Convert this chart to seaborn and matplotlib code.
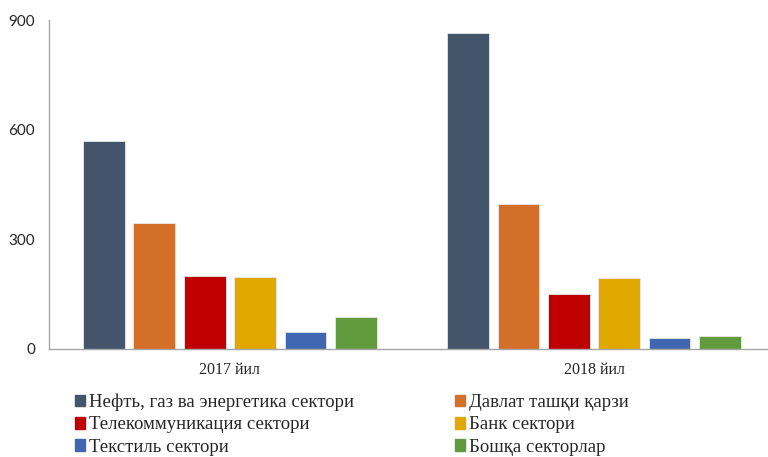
import pandas as pd
import matplotlib
matplotlib.use("Agg")
import matplotlib.pyplot as plt
import seaborn as sns

# data
years = ["2017 йил", "2018 йил"]
sectors = [
    "Нефть, газ ва энергетика сектори",
    "Давлат ташқи қарзи",
    "Телекоммуникация сектори",
    "Банк сектори",
    "Текстиль сектори",
    "Бошқа секторлар",
]
values_2017 = [570, 344, 200, 196, 46, 87]
values_2018 = [865, 398, 150, 193, 30, 35]
colors = ["#44546A", "#D46F2A", "#C00000", "#E1A900", "#3F66B0", "#629A3E"]

df = pd.DataFrame({
    "year": [years[0]] * 6 + [years[1]] * 6,
    "sector": sectors * 2,
    "value": values_2017 + values_2018,
})

sns.set_style("white")
fig = plt.figure(figsize=(7.68, 4.57), dpi=100)
ax = fig.add_axes([49 / 768, 1 - 349 / 457, 1 - 49 / 768, 329 / 457])

sns.barplot(data=df, x="year", y="value", hue="sector", hue_order=sectors,
            palette=colors, saturation=1, width=0.83, gap=0.17,
            edgecolor="#e8e8e8", linewidth=0.6, ax=ax, legend=False)

ax.set_ylim(0, 900)
ax.set_xlim(-0.497, 1.478)
ax.set_yticks([0, 300, 600, 900])
ax.set_xlabel("")
ax.set_ylabel("")
for side in ["top", "right"]:
    ax.spines[side].set_visible(False)
for side in ["left", "bottom"]:
    ax.spines[side].set_color("#a6a6a6")
    ax.spines[side].set_linewidth(1.0)
ax.tick_params(axis="both", length=0)
ax.tick_params(axis="y", pad=10, labelsize=11)
ax.tick_params(axis="x", pad=9, labelsize=11.5)
for lbl in ax.get_yticklabels():
    lbl.set_family("Lato")
for lbl in ax.get_xticklabels():
    lbl.set_family("Liberation Serif")

# legend, filled row by row like the original
handles = [plt.Rectangle((0, 0), 1, 1, color=c) for c in colors]
order = [0, 2, 4, 1, 3, 5]
fig.legend([handles[i] for i in order], [sectors[i] for i in order],
           ncol=2, loc="upper left", bbox_to_anchor=(0.0977, 0.138),
           frameon=False, prop={"family": "Liberation Serif", "size": 13.5},
           handlelength=0.55, handleheight=0.55, handletextpad=0.2,
           labelspacing=0.27, columnspacing=5.37, borderpad=0, borderaxespad=0)

fig.savefig("out.png", dpi=100)
